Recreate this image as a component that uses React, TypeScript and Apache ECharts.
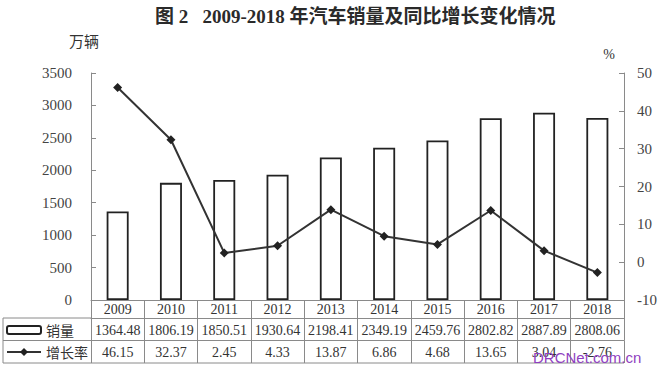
import React, { useEffect, useRef } from "react";
import * as echarts from "echarts";

const years = ["2009", "2010", "2011", "2012", "2013", "2014", "2015", "2016", "2017", "2018"];
const sales = [1364.48, 1806.19, 1850.51, 1930.64, 2198.41, 2349.19, 2459.76, 2802.82, 2887.89, 2808.06];
const growth = [46.15, 32.37, 2.45, 4.33, 13.87, 6.86, 4.68, 13.65, 3.04, -2.76];
const leftTicks = { min: 0, max: 3500, interval: 500 };
const rightTicks = { min: -10, max: 50, interval: 10 };

const SERIF = "'Liberation Serif', 'DejaVu Serif', serif";
const CJK = "'Noto Sans CJK SC', 'Noto Sans', sans-serif";
const TITLE_FONT = "'Liberation Serif', 'Noto Sans CJK SC', serif";
const LINE = "#8a8a8a";
const TEXT = "#333";

export default function App() {
  const ref = useRef<HTMLDivElement>(null);
  useEffect(() => {
    if (!ref.current) return;
    const chart = echarts.init(ref.current, undefined, { renderer: "svg" });
    const tableAxis = (offset: number, len: number, margin: number, fmt?: (v: string, i: number) => string, fontFamily = SERIF) => ({
      type: "category",
      data: years,
      position: "bottom",
      offset,
      boundaryGap: true,
      axisLine: { show: true, onZero: false, lineStyle: { color: LINE, width: 1 } },
      axisTick: { show: true, alignWithLabel: false, length: len, inside: false, lineStyle: { color: LINE, width: 1 } },
      axisLabel: {
        interval: 0,
        margin,
        fontSize: 14,
        fontFamily,
        color: TEXT,
        formatter: fmt,
      },
      splitLine: { show: false },
    });
    chart.setOption({
      animation: false,
      backgroundColor: "#fff",
      title: {
        text: "图 2   2009-2018 年汽车销量及同比增长变化情况",
        left: 150,
        top: 2,
        textStyle: { fontSize: 19, fontWeight: "bold", fontFamily: TITLE_FONT, color: "#2a2a2a" },
      },
      grid: { left: 91, right: 37, top: 73, bottom: 69, containLabel: false },
      legend: [
        {
          data: ["销量"],
          left: 6,
          top: 323,
          padding: 0,
          itemWidth: 34,
          itemHeight: 8,
          textStyle: { fontSize: 14, fontFamily: CJK, color: TEXT },
        },
        {
          data: ["增长率"],
          left: 6,
          top: 345,
          padding: 0,
          itemWidth: 34,
          itemHeight: 10,
          textStyle: { fontSize: 14, fontFamily: CJK, color: TEXT },
        },
      ],
      xAxis: [
        tableAxis(0, 18, 2),
        tableAxis(18, 22.5, 5, (_v: string, i: number) => sales[i].toFixed(2)),
        tableAxis(40.5, 22.5, 5, (_v: string, i: number) => growth[i].toFixed(2)),
      ],
      yAxis: [
        {
          type: "value",
          ...leftTicks,
          name: "万辆",
          nameLocation: "end",
          nameGap: 25,
          nameTextStyle: { fontSize: 15, fontFamily: CJK, color: TEXT, padding: [0, 14, 0, 0] },
          axisLine: { show: true, lineStyle: { color: LINE } },
          axisTick: { show: true, inside: true, length: 5, lineStyle: { color: LINE } },
          axisLabel: { margin: 19, fontSize: 15, fontFamily: SERIF, color: "#444", formatter: (v: number) => String(v) },
          splitLine: { show: false },
        },
        {
          type: "value",
          ...rightTicks,
          position: "right",
          name: "%",
          nameLocation: "end",
          nameGap: 12,
          nameTextStyle: { fontSize: 14, fontFamily: SERIF, color: TEXT, padding: [0, 30, 0, 0] },
          axisLine: { show: true, lineStyle: { color: LINE } },
          axisTick: { show: true, inside: true, length: 5, lineStyle: { color: LINE } },
          axisLabel: { margin: 13, fontSize: 15, fontFamily: SERIF, color: "#444", formatter: (v: number) => String(v) },
          splitLine: { show: false },
        },
      ],
      series: [
        {
          name: "销量",
          type: "bar",
          xAxisIndex: 0,
          yAxisIndex: 0,
          data: sales,
          barWidth: 22,
          itemStyle: { color: "#fff", borderColor: "#222", borderWidth: 1.8 },
        },
        {
          name: "增长率",
          type: "line",
          xAxisIndex: 0,
          yAxisIndex: 1,
          data: growth,
          symbol: "diamond",
          symbolSize: 9,
          lineStyle: { color: "#333", width: 2 },
          itemStyle: { color: "#222" },
          z: 5,
        },
      ],
      graphic: [
        { type: "line", shape: { x1: 3, y1: 318, x2: 91, y2: 318 }, style: { stroke: LINE, lineWidth: 1 } },
        { type: "line", shape: { x1: 3, y1: 340.5, x2: 91, y2: 340.5 }, style: { stroke: LINE, lineWidth: 1 } },
        { type: "line", shape: { x1: 3, y1: 363, x2: 624, y2: 363 }, style: { stroke: LINE, lineWidth: 1 } },
        { type: "line", shape: { x1: 3, y1: 318, x2: 3, y2: 363 }, style: { stroke: LINE, lineWidth: 1 } },
        {
          type: "text",
          x: 533,
          y: 350,
          style: { text: "DRCNet.com.cn", fontSize: 15, fontFamily: "'Liberation Sans', Arial, sans-serif", fill: "#8f3fc0" },
          z: 100,
        },
      ],
    });
    return () => chart.dispose();
  }, []);
  return <div ref={ref} style={{ position: "fixed", left: 0, top: 0, width: 661, height: 369 }} />;
}
